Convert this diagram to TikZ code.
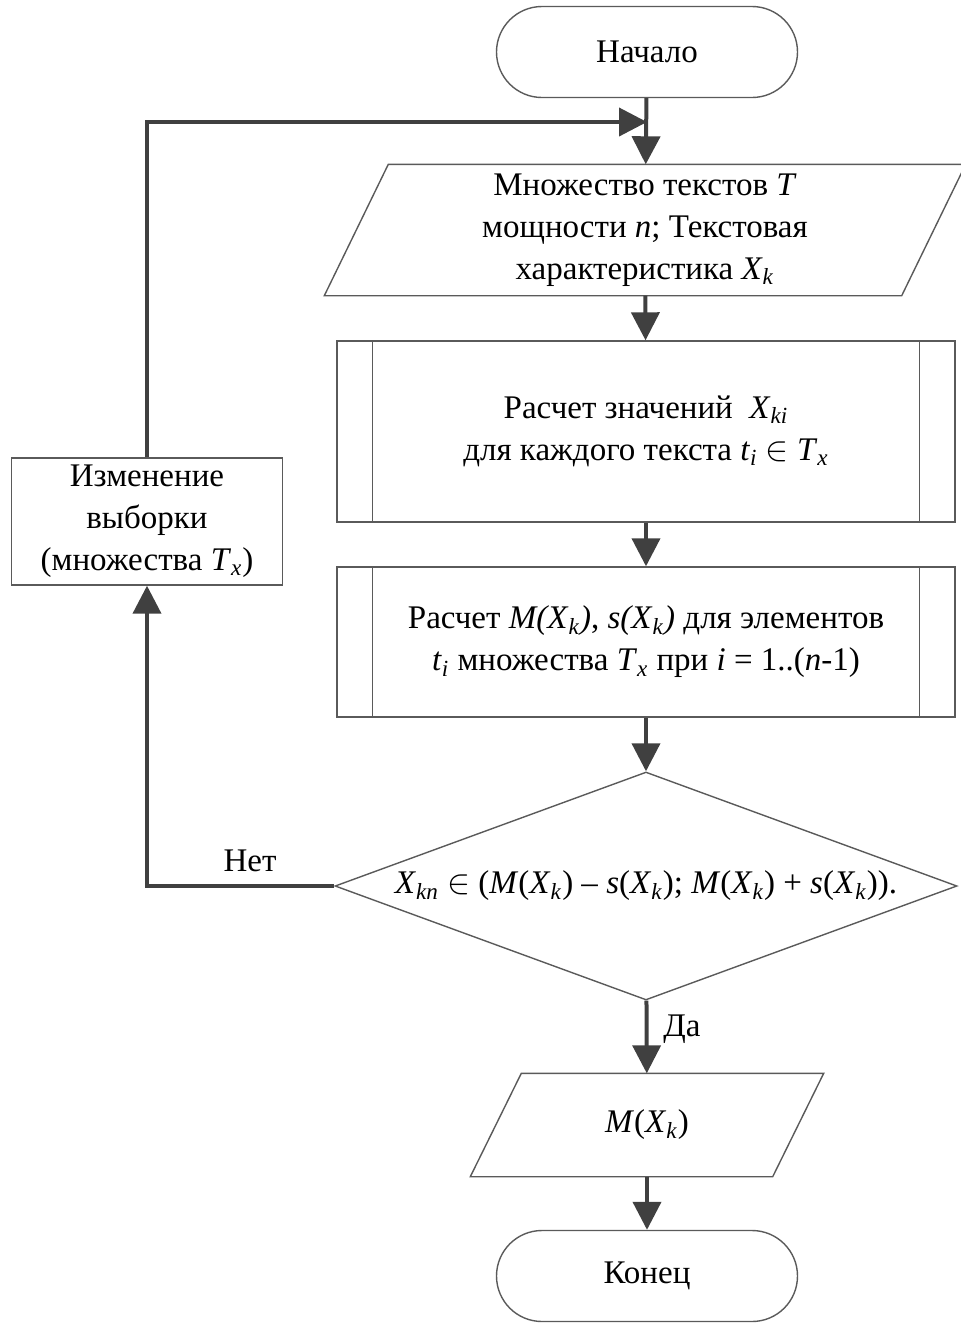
\documentclass[tikz,border=0pt]{standalone}
\usepackage{fontspec}
\setmainfont{Liberation Serif}
\usetikzlibrary{shapes.geometric, arrows.meta}

\definecolor{edgecol}{HTML}{5A5A5A}
\definecolor{arrcol}{HTML}{404040}
\newcommand{\ix}[1]{\textsubscript{\textit{#1}}}

\tikzset{
	blk/.style={draw=edgecol, line width=0.7pt, align=center, inner sep=0pt, font=\fontsize{16.5}{21}\selectfont},
	term/.style={blk, minimum width=150.5pt, minimum height=45.5pt, rounded corners=22.75pt},
	proc/.style={blk, minimum width=309pt},
	iobox/.style={blk, draw=none},
	arr/.style={draw=arrcol, line width=2pt, -{Triangle[length=14pt, width=14pt]}},
	lbl/.style={font=\fontsize{16.5}{21}\selectfont}
}

\begin{document}
\begin{tikzpicture}[x=0.5pt, y=-0.5pt]
	\useasboundingbox (0, 0) rectangle (960, 1324);
	% Terminals
	\node[term] (start) at (647, 52)   {Начало};
	\node[term] (stop)  at (647, 1276) {Конец};
	
	% Input blocks (outline drawn below)
	\node[iobox, minimum width=288pt, minimum height=65pt] (inp) at (645, 230)
		{Множество текстов \textit{T}\\ мощности \textit{n}; Текстовая\\ характеристика \textit{X}\ix{k}};
	\node[iobox, minimum width=150.5pt, minimum height=51pt] (out) at (647, 1125) {\textit{M}(\textit{X}\ix{k})};
	
	% Processes
	\node[proc, minimum height=90.5pt] (p1) at (646, 431.5)
		{Расчет значений \ \textit{X}\ix{ki}\\ для каждого текста \textit{t}\ix{i} $\in$ \textit{T}\ix{x}};
	\node[proc, minimum height=75pt] (p2) at (646, 642)
		{Расчет \textit{M(X}\ix{k}\textit{)}, \textit{s(X}\ix{k}\textit{)} для элементов\\ \textit{t}\ix{i} множества \textit{T}\ix{x} при \textit{i} = 1..(\textit{n}-1)};
	\node[blk, minimum width=135.5pt, minimum height=63.5pt] (chg) at (147, 521.5)
		{Изменение\\ выборки\\ (множества \textit{T}\ix{x})};
	
	% Condition
	\node[blk, diamond, aspect=2.73, minimum width=311pt, minimum height=114pt] (cond) at (646, 886)
		{\textit{X}\ix{kn} $\in$ (\textit{M}(\textit{X}\ix{k}) – \textit{s}(\textit{X}\ix{k}); \textit{M}(\textit{X}\ix{k}) + \textit{s}(\textit{X}\ix{k})).};
	
	% Side lines and slanted outlines
	\draw[edgecol, line width=0.7pt] ([xshift=16pt]inp.north west) -- ([xshift=16pt]inp.north east)
		-- ([xshift=-16pt]inp.south east) -- ([xshift=-16pt]inp.south west) -- cycle;
	\draw[edgecol, line width=0.7pt] ([xshift=12.75pt]out.north west) -- ([xshift=12.75pt]out.north east)
		-- ([xshift=-12.75pt]out.south east) -- ([xshift=-12.75pt]out.south west) -- cycle;
	\foreach \p in {p1, p2} {
		\draw[edgecol, line width=0.7pt] ([xshift=18pt]\p.north west) -- ([xshift=18pt]\p.south west);
		\draw[edgecol, line width=0.7pt] ([xshift=-18pt]\p.north east) -- ([xshift=-18pt]\p.south east);
	}
	
	% Connections
	\coordinate (j) at (647, 122);
	\draw[arr] (start) -- (inp);
	\draw[arr] (inp) -- (p1);
	\draw[arr] (p1) -- (p2);
	\draw[arr] (p2) -- (cond);
	\draw[arr] (cond) -- node[lbl, right=4pt, pos=0.4] (yes) {Да} (out);
	\draw[arr] (out) -- (stop);
	\draw[arr] (cond.west) -| node[lbl, above=3pt, pos=0.225] (no) {Нет} (chg.south);
	\draw[arr] (chg.north) |- (j);
\end{tikzpicture}
\end{document}
